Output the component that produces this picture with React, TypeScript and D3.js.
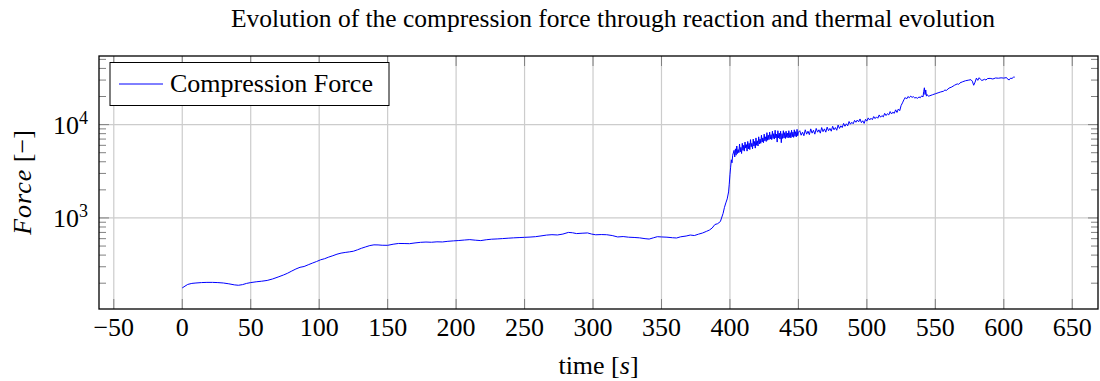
import { useEffect, useRef } from 'react'
import * as d3 from 'd3'

const W = 1100
const H = 381
const margin = { top: 56, right: 2, bottom: 72, left: 99 }
const FONT = "'Liberation Serif', 'Times New Roman', serif"

// [time s, force], segment by segment
const warmUp: [number, number][] = [
  [0, 178], [2, 186], [4, 194], [7, 199], [10, 201], [14, 203], [18, 204], [22, 204],
  [26, 203], [30, 201], [34, 197], [38, 192], [41, 190], [44, 193], [47, 199], [50, 203],
  [54, 207], [58, 210], [62, 214], [66, 222], [70, 233], [74, 245], [77, 256], [80, 270],
  [83, 284], [86, 296], [89, 302], [92, 315], [95, 328], [98, 341], [101, 356], [104, 366],
  [107, 381], [110, 394], [113, 409], [116, 420], [119, 427], [122, 433],
]

const plateau: [number, number][] = [
  [125, 440], [128, 456], [131, 474], [134, 490], [137, 506], [140, 515], [143, 514],
  [146, 510], [150, 509], [154, 523], [158, 533], [162, 532], [166, 530], [170, 540],
  [174, 548], [178, 552], [182, 549], [186, 555], [190, 553], [194, 562], [198, 568],
  [202, 573], [206, 580], [210, 586], [214, 578], [218, 572], [222, 584], [226, 592],
  [230, 596], [234, 601], [238, 607], [242, 612], [246, 616], [250, 620], [254, 624],
  [258, 630], [262, 642], [266, 655], [270, 662], [274, 657], [278, 672], [282, 700],
  [285, 694], [288, 680], [292, 686], [296, 691], [299, 672], [302, 660], [306, 664],
  [310, 661], [314, 648], [318, 626], [322, 632], [326, 622], [330, 618], [334, 612],
  [338, 600], [341, 594], [344, 612], [347, 630], [350, 626], [354, 622], [358, 614],
  [361, 610], [364, 628], [368, 640], [371, 656], [374, 648], [377, 670], [380, 690],
  [383, 720], [385, 742], [387, 780], [389, 850], [391, 868], [393, 915],
]

const jump: [number, number][] = [
  [395, 1120], [396, 1300], [397, 1450], [398, 1600], [399, 1900], [399.5, 2300],
  [400, 2900], [400.5, 3500], [401, 4200], [401.5, 3900], [402, 4700],
]

const noisyRise: [number, number][] = [
  [403, 5300], [403.5, 4500], [404, 5500], [404.5, 4700], [405, 5900], [405.5, 4900],
  [406, 5400], [406.5, 5000], [407, 6200], [407.5, 5100], [408, 5700], [408.5, 4900],
  [409, 6300], [409.5, 5300], [410, 6000], [410.5, 5200], [411, 6500], [411.5, 5600],
  [412, 6100], [412.5, 5200], [413, 6600], [413.5, 5500], [414, 6300], [414.5, 5400],
  [415, 6900], [415.5, 5800], [416, 6300], [416.5, 5500], [417, 7000], [417.5, 5900],
  [418, 6600], [418.5, 5600], [419, 7200], [419.5, 6000], [420, 6700], [420.5, 5900],
  [421, 7400], [421.5, 6200], [422, 7000], [422.5, 6300], [423, 7700], [423.5, 6500],
  [424, 7200], [424.5, 6400], [425, 7900], [425.5, 6700], [426, 7400], [426.5, 6600],
  [427, 8200], [427.5, 6800], [428, 7700], [428.5, 6900], [429, 8300], [429.5, 7000],
  [430, 7800], [430.5, 6900], [431, 8500], [431.5, 7100], [432, 8000], [432.5, 7000],
  [433, 8700], [433.5, 7200], [434, 7900], [434.5, 6500], [435, 8600], [435.5, 7200],
  [436, 8100], [436.5, 7000], [437, 8500], [437.5, 6400], [438, 8000], [438.5, 7100],
  [439, 8600], [439.5, 7200], [440, 8200], [440.5, 7100], [441, 8500], [441.5, 7300],
  [442, 8100], [442.5, 7200], [443, 8600], [443.5, 7300], [444, 8200], [444.5, 7200],
  [445, 8700], [445.5, 7400], [446, 8300], [446.5, 7300], [447, 8800], [447.5, 7500],
  [448, 8400], [448.5, 7400], [449, 8900], [449.5, 7600], [450, 8300],
  [451, 8600], [452, 7700], [453, 8300], [454, 7600], [455, 8800], [456, 7900], [457, 8500],
  [458, 7800], [459, 9000], [460, 8100], [461, 8700], [462, 7900], [463, 9100], [464, 8300],
  [465, 8800], [466, 8100], [467, 9300], [468, 8400], [469, 9000], [470, 8300], [471, 9400],
  [472, 8600], [473, 9100], [474, 8500], [475, 9600], [476, 8800], [477, 9300], [478, 8700],
  [479, 9900], [480, 9100], [481, 9700], [482, 9300], [483, 10300], [484, 9600],
  [485, 10200], [486, 9700], [487, 10800], [488, 10100], [489, 10600], [490, 10200],
  [491, 11100], [492, 10600], [493, 11200], [494, 10700], [495, 11500], [496, 10500],
  [497, 11000], [498, 10300], [499, 11400], [500, 10900], [501, 11800], [502, 11200],
  [503, 11700], [504, 11300], [505, 12200], [506, 11600], [507, 12100], [508, 11700],
  [509, 12700], [510, 12000], [511, 12500], [512, 12100], [513, 13200], [514, 12500],
  [515, 13100], [516, 12700], [517, 13800], [518, 13000], [519, 13600], [520, 13200],
  [521, 14400], [522, 13500], [523, 14700], [524, 14100], [525, 16000],
]

const finalRise: [number, number][] = [
  [526, 17100], [527, 18400], [528, 19500], [529, 18800], [530, 20000], [531, 19400],
  [532, 20200], [533, 19600], [534, 19900], [535, 19300], [536, 19500], [537, 19100],
  [538, 19800], [539, 19400], [540, 20300], [541, 19800], [541.5, 22500], [542, 24800],
  [542.5, 21000], [543, 23500], [543.5, 20200], [544, 21000], [545, 20100], [546, 20400],
  [548, 20900], [550, 21400], [552, 21900], [554, 22400], [556, 22800], [557, 23500],
  [558, 23200], [560, 24600], [562, 25300], [564, 26400], [566, 27300], [567, 27000],
  [568, 28000], [570, 28800], [572, 29500], [574, 29900], [576, 30300], [577, 29200],
  [578, 26400], [579, 28500], [580, 31500], [581, 29800], [582, 31800], [583, 30500],
  [584, 29700], [586, 30600], [587, 30000], [588, 31100], [590, 31300], [592, 30800],
  [594, 31600], [596, 31400], [598, 31700], [600, 31500], [602, 31900], [603, 30500],
  [604, 30200], [605, 31500], [606, 31200], [607, 32200], [608, 32300],
]

const xTicks = [-50, 0, 50, 100, 150, 200, 250, 300, 350, 400, 450, 500, 550, 600, 650]
const yMajorTicks = [1000, 10000]
const yMinorTicks = [
  200, 300, 400, 500, 600, 700, 800, 900,
  2000, 3000, 4000, 5000, 6000, 7000, 8000, 9000,
  20000, 30000, 40000, 50000,
]

export default function App() {
  const svgRef = useRef<SVGSVGElement>(null)

  useEffect(() => {
    if (!svgRef.current) return
    const data = [...warmUp, ...plateau, ...jump, ...noisyRise, ...finalRise]

    const svg = d3.select(svgRef.current)
    svg.selectAll('*').remove()
    svg.attr('width', W).attr('height', H)

    const x0 = margin.left
    const x1 = W - margin.right
    const y0 = margin.top
    const y1 = H - margin.bottom

    // pgfplots-style 10% enlargement of the limits
    const [tMin, tMax] = d3.extent(data, d => d[0]) as [number, number]
    const tPad = (tMax - tMin) * 0.1
    const [fMin, fMax] = d3.extent(data, d => Math.log10(d[1])) as [number, number]
    const fPad = (fMax - fMin) * 0.1

    const x = d3.scaleLinear().domain([tMin - tPad, tMax + tPad]).range([x0, x1])
    const y = d3.scaleLog()
      .domain([Math.pow(10, fMin - fPad), Math.pow(10, fMax + fPad)])
      .range([y1, y0])

    const g = svg.append('g')

    // grid
    g.selectAll('.gx').data(xTicks).enter().append('line')
      .attr('x1', d => x(d)).attr('x2', d => x(d))
      .attr('y1', y0).attr('y2', y1)
      .attr('stroke', '#cccccc').attr('stroke-width', 1.2)
    g.selectAll('.gy').data(yMajorTicks).enter().append('line')
      .attr('x1', x0).attr('x2', x1)
      .attr('y1', d => y(d)).attr('y2', d => y(d))
      .attr('stroke', '#cccccc').attr('stroke-width', 1.2)

    // tick marks (inside, both sides)
    const tickCol = '#808080'
    xTicks.forEach(d => {
      g.append('line').attr('x1', x(d)).attr('x2', x(d)).attr('y1', y1).attr('y2', y1 - 10)
        .attr('stroke', tickCol).attr('stroke-width', 1)
      g.append('line').attr('x1', x(d)).attr('x2', x(d)).attr('y1', y0).attr('y2', y0 + 10)
        .attr('stroke', tickCol).attr('stroke-width', 1)
    })
    const yTick = (v: number, len: number) => {
      g.append('line').attr('x1', x0).attr('x2', x0 + len).attr('y1', y(v)).attr('y2', y(v))
        .attr('stroke', tickCol).attr('stroke-width', 1)
      g.append('line').attr('x1', x1).attr('x2', x1 - len).attr('y1', y(v)).attr('y2', y(v))
        .attr('stroke', tickCol).attr('stroke-width', 1)
    }
    yMajorTicks.forEach(v => yTick(v, 10))
    yMinorTicks.forEach(v => yTick(v, 7))

    // data line
    const line = d3.line<[number, number]>().x(d => x(d[0])).y(d => y(d[1]))
    g.append('path').datum(data)
      .attr('d', line)
      .attr('fill', 'none')
      .attr('stroke', '#0000ff')
      .attr('stroke-width', 1)
      .attr('stroke-linejoin', 'round')

    // frame
    g.append('rect').attr('x', x0).attr('y', y0).attr('width', x1 - x0).attr('height', y1 - y0)
      .attr('fill', 'none').attr('stroke', '#000').attr('stroke-width', 1.3)

    // x tick labels
    xTicks.forEach(d => {
      g.append('text')
        .attr('x', x(d)).attr('y', y1 + 27)
        .attr('text-anchor', 'middle')
        .attr('font-family', FONT).attr('font-size', 26)
        .text(d < 0 ? `\u2212${-d}` : `${d}`)
    })

    // y tick labels 10^n
    yMajorTicks.forEach(v => {
      const t = g.append('text')
        .attr('x', x0 - 11).attr('y', y(v) + 9)
        .attr('text-anchor', 'end')
        .attr('font-family', FONT).attr('font-size', 26)
      t.append('tspan').text('10')
      t.append('tspan').attr('font-size', 18).attr('dy', -10).text(`${Math.round(Math.log10(v))}`)
    })

    // axis labels
    const xl = g.append('text')
      .attr('x', (x0 + x1) / 2).attr('y', 374)
      .attr('text-anchor', 'middle')
      .attr('font-family', FONT).attr('font-size', 26)
    xl.append('tspan').text('time [')
    xl.append('tspan').attr('font-style', 'italic').text('s')
    xl.append('tspan').text(']')

    const yl = g.append('text')
      .attr('transform', `translate(31,${(y0 + y1) / 2}) rotate(-90)`)
      .attr('text-anchor', 'middle')
      .attr('font-family', FONT).attr('font-size', 26)
    yl.append('tspan').attr('font-style', 'italic').attr('letter-spacing', 1).text('Force')
    yl.append('tspan').text(' [\u2212]')

    // title
    g.append('text')
      .attr('x', 613).attr('y', 27)
      .attr('text-anchor', 'middle')
      .attr('font-family', FONT).attr('font-size', 25.5)
      .text('Evolution of the compression force through reaction and thermal evolution')

    // legend
    const lg = g.append('g')
    lg.append('rect').attr('x', 110).attr('y', 62.5).attr('width', 279).attr('height', 43)
      .attr('fill', '#fff').attr('stroke', '#000').attr('stroke-width', 1)
    lg.append('line').attr('x1', 119).attr('x2', 163).attr('y1', 84).attr('y2', 84)
      .attr('stroke', '#0000ff').attr('stroke-width', 1)
    lg.append('text').attr('x', 170).attr('y', 92)
      .attr('font-family', FONT).attr('font-size', 26)
      .text('Compression Force')
  }, [])

  return (
    <div style={{ position: 'absolute', left: 0, top: 0 }}>
      <svg ref={svgRef} style={{ display: 'block' }} />
    </div>
  )
}
